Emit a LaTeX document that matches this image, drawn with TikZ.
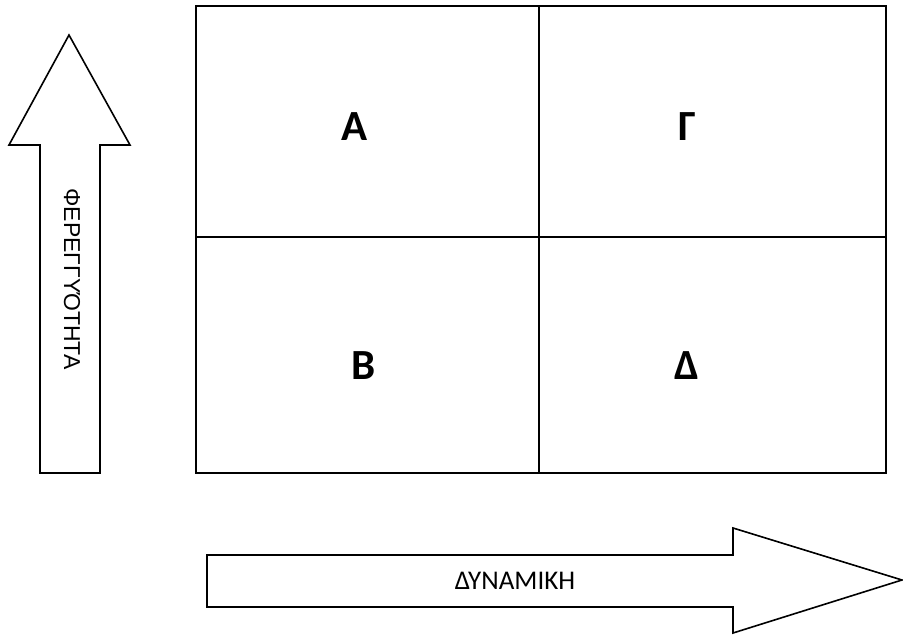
\documentclass[tikz,border=0pt]{standalone}
\usepackage{fontspec}
\setmainfont{Carlito}
\newfontfamily\arialfont{Liberation Sans}
\begin{document}
\begin{tikzpicture}[x=1pt,y=-1pt,
  outline/.style={draw=black,line width=1.6pt,line join=miter},
  bigletter/.style={font=\fontsize{43}{43}\selectfont\bfseries,inner sep=0pt},
  arrowlabel/.style={font=\fontsize{27}{27}\selectfont,inner sep=0pt},
  vlabel/.style={font=\arialfont\fontsize{23}{23}\selectfont,inner sep=0pt,rotate=-90}]
\useasboundingbox (0,0) rectangle (903,635);
% grid
\draw[outline] (196,6) rectangle (886,473);
\draw[outline] (539,6) -- (539,473);
\draw[outline] (196,237) -- (886,237);
\node[bigletter] (a) at (355,127) {Α};
\node[bigletter] (g) at (687,127) {Γ};
\node[bigletter] (b) at (364,366) {Β};
\node[bigletter] (d) at (687,366) {Δ};
% up arrow
\draw[outline] (40,473) -- (40,145) -- (9,145) -- (69,35) -- (130,145) -- (100,145) -- (100,473) -- cycle;
\node[vlabel] (v) at (72,279) {ΦΕΡΕΓΓΥΌΤΗΤΑ};
% right arrow
\draw[outline] (207,555) -- (733,555) -- (733,528) -- (902,580) -- (733,633) -- (733,607) -- (207,607) -- cycle;
\node[arrowlabel] (h) at (515,581) {ΔΥΝΑΜΙΚΗ};
\end{tikzpicture}
\end{document}
